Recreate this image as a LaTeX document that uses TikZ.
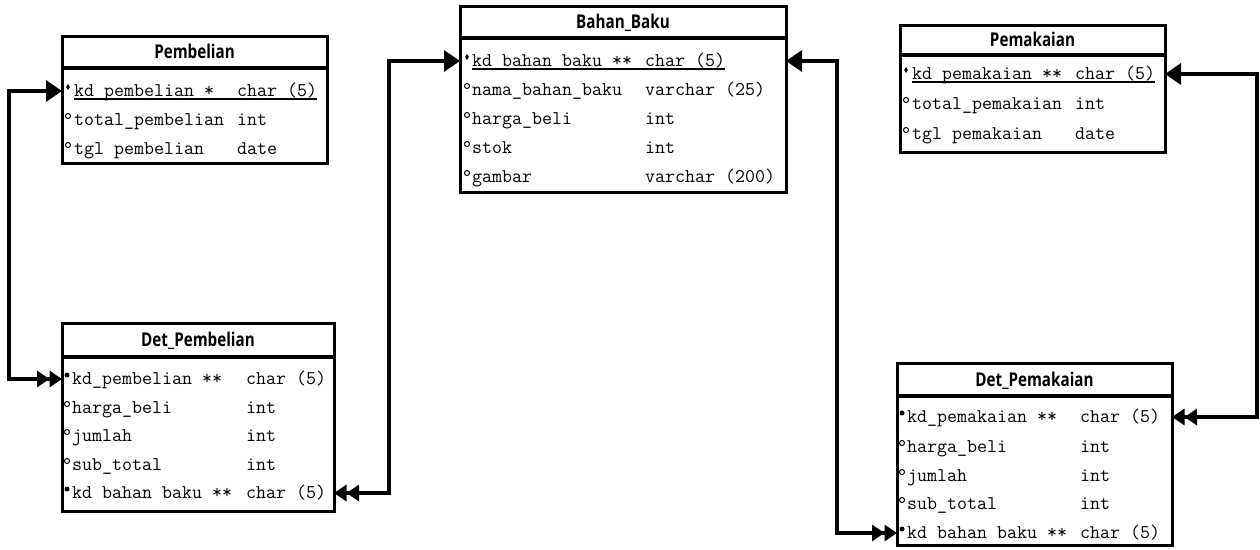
\documentclass[tikz,border=0pt]{standalone}
\usepackage{fontspec}
\newfontfamily\ttlfont[FakeStretch=0.8]{Open Sans}
\usetikzlibrary{arrows.meta,shapes.geometric}
\tikzset{
  tbl/.style={draw, line width=3pt, inner sep=0pt, outer sep=0pt},
  hdr/.style={line width=3.4pt},
  ttl/.style={font=\ttlfont\bfseries\fontsize{19}{21}\selectfont, inner sep=0pt, text height=13.5pt, text depth=0pt},
  fld/.style={anchor=base west, inner sep=0pt, font=\ttfamily\fontsize{19.4}{22}\selectfont},
  pkm/.style={diamond, fill, inner sep=0pt, minimum width=4pt, minimum height=6pt},
  fkm/.style={circle, fill, inner sep=0pt, minimum size=5pt},
  atm/.style={circle, draw, line width=1pt, inner sep=0pt, minimum size=5pt},
  uline/.style={line width=1.2pt},
  conn/.style={line width=3.4pt},
  tipone/.tip={Triangle[length=16pt,width=21pt]},
  tiptwo/.tip={Triangle[length=12.5pt,width=16pt] Triangle[length=12.5pt,width=16pt]}
}
% #1 name, #2 left, #3 top, #4 right, #5 bottom, #6 header y, #7 title
\newcommand\etable[7]{%
  \node[tbl, minimum width={#4-#2}, minimum height={#5-#3}] (#1) at ({(#2+#4)/2},{(#3+#5)/2}) {};
  \draw[hdr] (#2,#6) -- (#4,#6);
  \node[ttl] (#1title) at ({(#2+#4)/2},{(#3+#6)/2}) {#7};
}
% #1 id, #2 marker style, #3 marker x, #4 name x, #5 type x, #6 row y, #7 name, #8 type
\newcommand\erow[8]{%
  \coordinate (#1) at (#3,#6);
  \node[#2] (#1m) at (#3,#6-4) {};
  \node[fld] (#1n) at (#4,#6+5) {#7};
  \node[fld] (#1t) at (#5,#6+5) {#8};
}
\newcommand\pkline[1]{\draw[uline] ([yshift=-3pt]#1n.base west) -- ([yshift=-3pt]#1t.base east);}
\begin{document}
\begin{tikzpicture}[x=1pt,y=-1pt]
\useasboundingbox[fill=white] (0,0) rectangle (1260,549);

% Pembelian
\etable{P}{62}{36}{327}{163}{68}{Pembelian}
\erow{pR1}{pkm}{68}{74}{237}{91}{kd\_pembelian *}{char (5)}
\pkline{pR1}
\erow{pR2}{atm}{68}{74}{237}{120}{total\_pembelian}{int}
\erow{pR3}{atm}{68}{74}{237}{149}{tgl pembelian}{date}

% Bahan_Baku
\etable{B}{460}{6}{786}{192}{38}{Bahan\_Baku}
\erow{bR1}{pkm}{467}{472}{645}{61}{kd\_bahan\_baku **}{char (5)}
\pkline{bR1}
\erow{bR2}{atm}{467}{472}{645}{90}{nama\_bahan\_baku}{varchar (25)}
\erow{bR3}{atm}{467}{472}{645}{119}{harga\_beli}{int}
\erow{bR4}{atm}{467}{472}{645}{148}{stok}{int}
\erow{bR5}{atm}{467}{472}{645}{177}{gambar}{varchar (200)}

% Pemakaian
\etable{M}{900}{25}{1165}{152}{55}{Pemakaian}
\erow{mR1}{pkm}{906}{912}{1075}{74}{kd\_pemakaian **}{char (5)}
\pkline{mR1}
\erow{mR2}{atm}{906}{912}{1075}{104}{total\_pemakaian}{int}
\erow{mR3}{atm}{906}{912}{1075}{134}{tgl pemakaian}{date}

% Det_Pembelian
\etable{DP}{62}{323}{334}{511}{357}{Det\_Pembelian}
\erow{dpR1}{fkm}{67}{72}{246}{379}{kd\_pembelian **}{char (5)}
\erow{dpR2}{atm}{67}{72}{246}{408}{harga\_beli}{int}
\erow{dpR3}{atm}{67}{72}{246}{436}{jumlah}{int}
\erow{dpR4}{atm}{67}{72}{246}{465}{sub\_total}{int}
\erow{dpR5}{fkm}{67}{72}{246}{493}{kd bahan baku **}{char (5)}

% Det_Pemakaian
\etable{DM}{897}{363}{1172}{545}{396}{Det\_Pemakaian}
\erow{dmR1}{fkm}{902}{907}{1080}{417}{kd\_pemakaian **}{char (5)}
\erow{dmR2}{atm}{902}{907}{1080}{447}{harga\_beli}{int}
\erow{dmR3}{atm}{902}{907}{1080}{476}{jumlah}{int}
\erow{dmR4}{atm}{902}{907}{1080}{504}{sub\_total}{int}
\erow{dmR5}{fkm}{902}{907}{1080}{533}{kd bahan baku **}{char (5)}

% connectors
\coordinate (c1) at (9,230);
\coordinate (c2) at (389,300);
\coordinate (c3) at (837,300);
\coordinate (c4) at (1257,250);
\draw[conn,{tipone}-{tiptwo}] (P.west |- pR1) -| (c1) |- (DP.west |- dpR1);
\draw[conn,{tiptwo}-{tipone}] (DP.east |- dpR5) -| (c2) |- (B.west |- bR1);
\draw[conn,{tipone}-{tiptwo}] (B.east |- bR1) -| (c3) |- (DM.west |- dmR5);
\draw[conn,{tipone}-{tiptwo}] (M.east |- mR1) -| (c4) |- (DM.east |- dmR1);
\end{tikzpicture}
\end{document}
